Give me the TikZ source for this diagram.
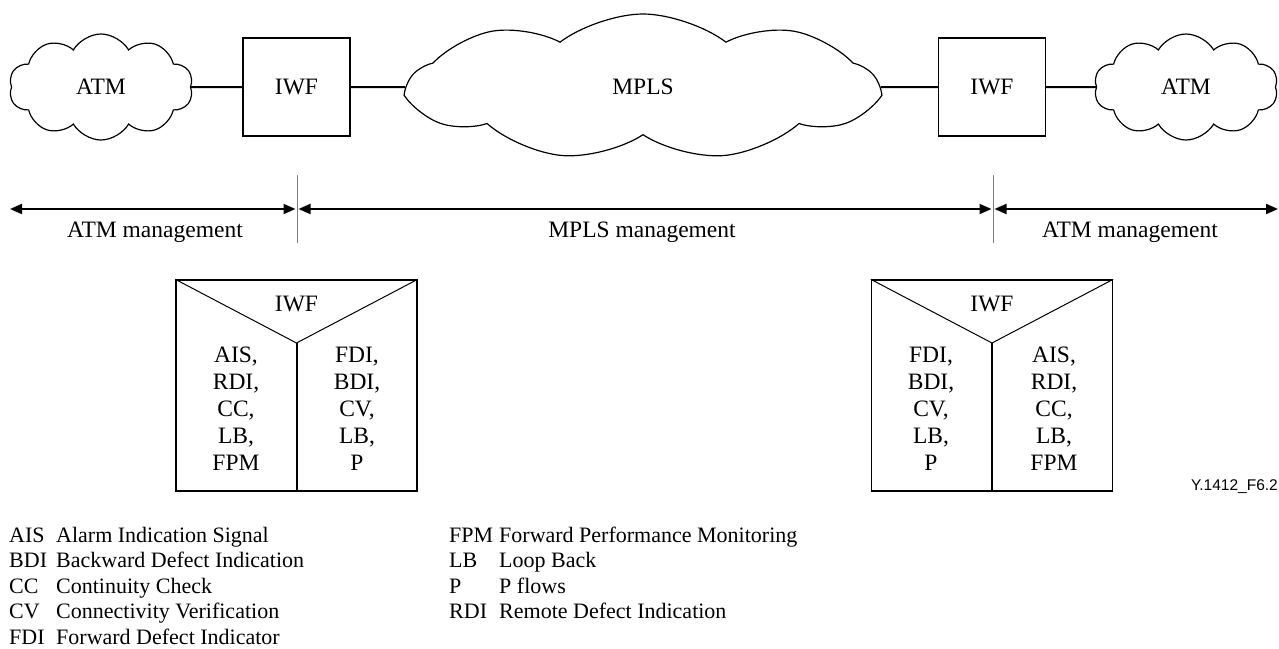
\documentclass[tikz,border=0pt]{standalone}
\usepackage{fontspec}
\setmainfont{Liberation Serif}
\newfontfamily\tagfont{Liberation Sans}
\usetikzlibrary{shapes.symbols,arrows.meta}

\begin{document}
\begin{tikzpicture}[x=1pt,y=-1pt,>={Triangle[length=12pt,width=10pt]},
  font=\fontsize{23.5}{27}\selectfont,
  cloud node/.style={cloud,draw,cloud ignores aspect,line width=1.2pt,inner sep=0pt},
  iwf node/.style={rectangle,draw,line width=1.3pt,minimum width=107pt,minimum height=98pt},
  oam box/.style={rectangle,draw,line width=1.3pt,minimum width=241pt,minimum height=211pt},
  link/.style={line width=2pt},
  divider/.style={gray,line width=1pt},
  col node/.style={align=center,inner sep=0pt},
  leg node/.style={anchor=base west,inner sep=0pt,font=\fontsize{22}{25}\selectfont}]

  \useasboundingbox (0,0) rectangle (1279,648);

  % networks
  \node[cloud node,cloud puffs=10,cloud puff arc=120,minimum width=184pt,minimum height=106pt] (atmL) at (101,87) {ATM};
  \node[iwf node] (iwfL) at (296.5,87) {IWF};
  \node[cloud node,cloud puffs=9,cloud puff arc=75,minimum width=467pt,minimum height=146pt] (mpls) at (643,87) {MPLS};
  \node[iwf node] (iwfR) at (992,87) {IWF};
  \node[cloud node,cloud puffs=10,cloud puff arc=120,minimum width=184pt,minimum height=106pt] (atmR) at (1186,87) {ATM};

  \path[link]
    (atmL) edge (iwfL)
    (iwfL) edge (mpls)
    (mpls) edge (iwfR)
    (iwfR) edge (atmR);

  % management domains
  \coordinate (endL) at (10,209);
  \coordinate (endR) at (1278,209);
  \coordinate (bdL) at (297,209);
  \coordinate (bdR) at (993,209);
  \coordinate (bdLtop) at (297,175);
  \coordinate (bdLbot) at (297,243);
  \coordinate (bdRtop) at (993,175);
  \coordinate (bdRbot) at (993,243);

  \draw[divider] (bdLtop) -- (bdLbot);
  \draw[divider] (bdRtop) -- (bdRbot);
  \draw[link,<->,shorten >=1.5pt,shorten <=0pt] (endL) -- (bdL);
  \draw[link,<->,shorten >=1.5pt,shorten <=1.5pt] (bdL) -- (bdR);
  \draw[link,<->,shorten <=1.5pt] (bdR) -- (endR);

  \node (mgtL) at (155,232) {ATM management};
  \node (mgtM) at (642,232) {MPLS management};
  \node (mgtR) at (1130,232) {ATM management};

  % OAM mapping boxes
  \node[oam box] (oamL) at (296.5,385.5) {};
  \coordinate (apexL) at (296.5,343);
  \draw[line width=1pt] (oamL.north west) -- (apexL) -- (oamL.north east);
  \draw[link] (apexL) -- (oamL.south);
  \node (iwfLt) at (296.5,304) {IWF};
  \node[col node] (colLa) at (236,409) {AIS,\\RDI,\\CC,\\LB,\\FPM};
  \node[col node] (colLb) at (357,409) {FDI,\\BDI,\\CV,\\LB,\\P};

  \node[oam box] (oamR) at (992,385.5) {};
  \coordinate (apexR) at (992,343);
  \draw[line width=1pt] (oamR.north west) -- (apexR) -- (oamR.north east);
  \draw[link] (apexR) -- (oamR.south);
  \node (iwfRt) at (992,304) {IWF};
  \node[col node] (colRa) at (931,409) {FDI,\\BDI,\\CV,\\LB,\\P};
  \node[col node] (colRb) at (1054,409) {AIS,\\RDI,\\CC,\\LB,\\FPM};

  \node[anchor=east,inner sep=0pt,font=\tagfont\fontsize{15.5}{18}\selectfont] (figtag) at (1278,487) {Y.1412\_F6.2};

  % legend
  \node[leg node] (abAIS) at (9,542) {AIS};
  \node[leg node] (txAIS) at (56,542) {Alarm Indication Signal};
  \node[leg node] (abBDI) at (9,567.5) {BDI};
  \node[leg node] (txBDI) at (56,567.5) {Backward Defect Indication};
  \node[leg node] (abCC) at (9,593) {CC};
  \node[leg node] (txCC) at (56,593) {Continuity Check};
  \node[leg node] (abCV) at (9,618.5) {CV};
  \node[leg node] (txCV) at (56,618.5) {Connectivity Verification};
  \node[leg node] (abFDI) at (9,644) {FDI};
  \node[leg node] (txFDI) at (56,644) {Forward Defect Indicator};

  \node[leg node] (abFPM) at (449,542) {FPM};
  \node[leg node] (txFPM) at (499,542) {Forward Performance Monitoring};
  \node[leg node] (abLB) at (449,567.5) {LB};
  \node[leg node] (txLB) at (499,567.5) {Loop Back};
  \node[leg node] (abP) at (449,593) {P};
  \node[leg node] (txP) at (499,593) {P flows};
  \node[leg node] (abRDI) at (449,618.5) {RDI};
  \node[leg node] (txRDI) at (499,618.5) {Remote Defect Indication};

\end{tikzpicture}
\end{document}
